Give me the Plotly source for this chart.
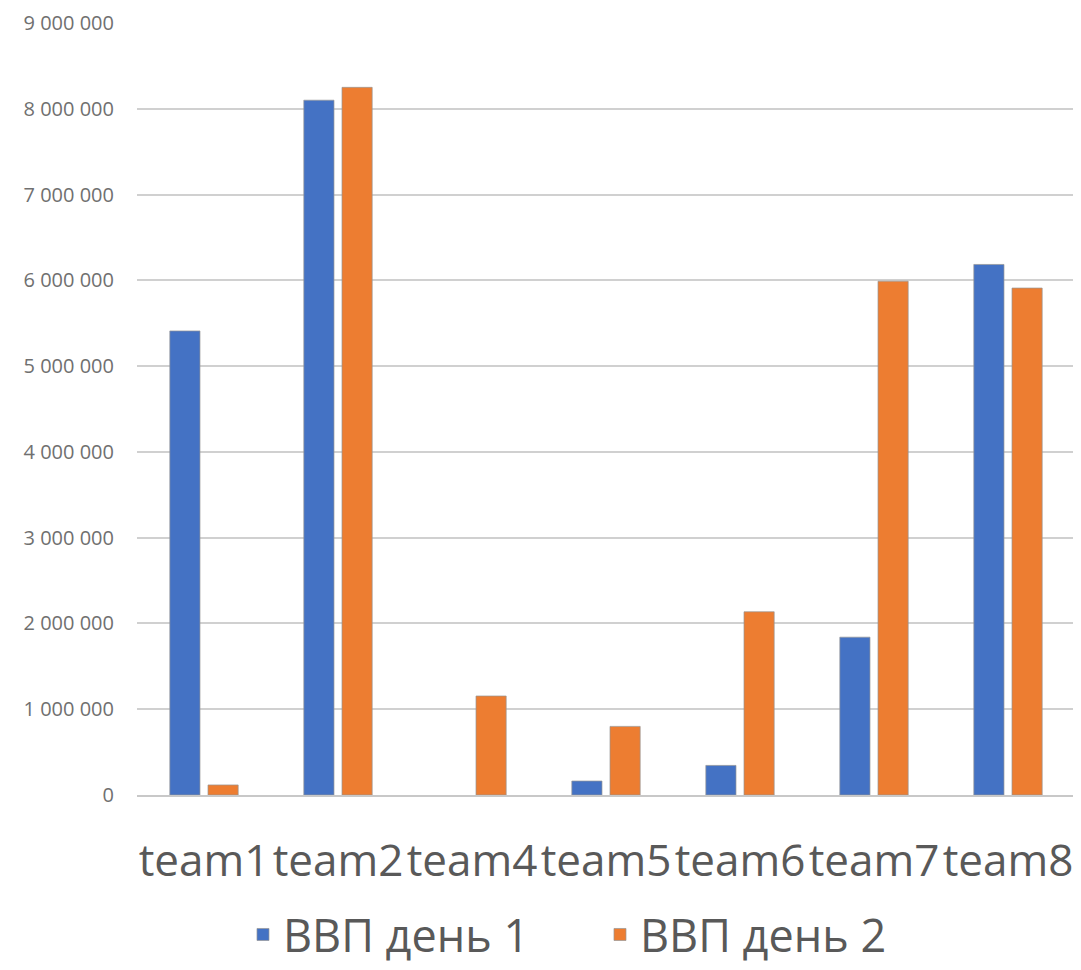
import plotly.graph_objects as go

teams = ["team1", "team2", "team4", "team5", "team6", "team7", "team8"]
day1 = [5410000, 8100000, 0, 163000, 345000, 1840000, 6185000]
day2 = [117000, 8250000, 1154000, 800000, 2136000, 5990000, 5910000]
series_names = ["ВВП день 1", "ВВП день 2"]
y_ticks = [0, 1000000, 2000000, 3000000, 4000000, 5000000, 6000000, 7000000, 8000000, 9000000]

BLUE = "#4472C4"
ORANGE = "#ED7D31"
TEXT = "#595959"
EDGE = "rgba(150,150,150,0.7)"

fig = go.Figure()
for vals, name, col in [(day1, series_names[0], BLUE), (day2, series_names[1], ORANGE)]:
    fig.add_trace(go.Bar(
        x=teams, y=vals, name=name,
        marker=dict(color=col, line=dict(color=EDGE, width=[1 if v else 0 for v in vals])),
    ))

fig.update_layout(
    width=1073, height=962,
    margin=dict(l=129, r=6, t=15, b=175, pad=0, autoexpand=False),
    paper_bgcolor="white", plot_bgcolor="white",
    barmode="group", bargap=0.43, bargroupgap=0.21,
    separators=". ",
    font=dict(family="Open Sans", color=TEXT),
    showlegend=True,
    legend=dict(orientation="h", x=0.113, xanchor="left", y=-0.181, yanchor="middle",
                font=dict(size=45, color=TEXT), itemwidth=30, traceorder="normal",
                entrywidth=312),
    xaxis=dict(showgrid=False, showline=True, linecolor="#c8c8c8", linewidth=2,
               ticks="", tickfont=dict(size=44, color=TEXT), ticklabelstandoff=26,
               automargin=False),
    yaxis=dict(range=[0, 9000000], tickvals=y_ticks, tickformat=",d",
               showgrid=True, gridcolor="#d0d0d0", gridwidth=1.5,
               zeroline=False, showline=False, ticks="",
               tickfont=dict(size=20, color="#707070"), ticklabelstandoff=22,
               automargin=False),
)

fig.write_html("out.html")
